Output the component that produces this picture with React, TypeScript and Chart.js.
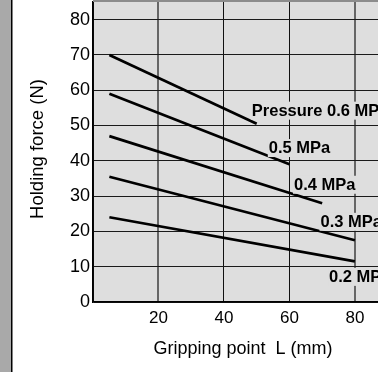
import React, { useEffect, useRef } from 'react';
import { Chart, registerables } from 'chart.js';

Chart.register(...registerables);

// Holding force vs gripping point, one straight line per supply pressure
const pressureLabels = ['Pressure 0.6 MPa', '0.5 MPa', '0.4 MPa', '0.3 MPa', '0.2 MPa'];
const startPoint = [5, 5, 5, 5, 5];
const endPoint = [50, 60, 70, 80, 80];
const startForce = [70, 59, 47, 35.5, 24];
const endForce = [50.5, 39, 28, 17.5, 11.5];

const xTicks = [0, 20, 40, 60, 80];
const yTicks = [0, 10, 20, 30, 40, 50, 60, 70, 80];

// label anchors (data units: gripping point, force at text baseline)
const labelAtL = [48.5, 53.7, 61.4, 69.5, 72.1];
const labelAtF = [52.8, 42.2, 31.8, 21.3, 5.7];

const xTitle = 'Gripping point  L (mm)';
const yTitle = 'Holding force (N)';

const FONT = '"Liberation Sans", Arial, Helvetica, sans-serif';
const PLOT_BG = '#dedede';

const framePlugin = {
  id: 'frame',
  beforeDraw(chart: any) {
    const { ctx, chartArea: a } = chart;
    ctx.save();
    ctx.fillStyle = '#ffffff';
    ctx.fillRect(0, 0, chart.width, chart.height);
    ctx.fillStyle = '#a9a9a9';
    ctx.fillRect(0, 0, 11, chart.height);
    ctx.fillStyle = '#000000';
    ctx.fillRect(11, 0, 1.5, chart.height);
    ctx.fillStyle = PLOT_BG;
    ctx.fillRect(a.left, a.top, a.right - a.left, a.bottom - a.top);
    ctx.restore();
  },
  afterDraw(chart: any) {
    const { ctx, chartArea: a, scales } = chart;
    const xs = scales.x;
    const ys = scales.y;
    ctx.save();
    // top gray edge
    ctx.fillStyle = '#8c8c8c';
    ctx.fillRect(a.left, 0, chart.width - a.left, 2);

    // line labels
    ctx.font = `bold 16.5px ${FONT}`;
    ctx.textAlign = 'left';
    ctx.textBaseline = 'alphabetic';
    pressureLabels.forEach((t, i) => {
      const px = xs.getPixelForValue(labelAtL[i]);
      const py = ys.getPixelForValue(labelAtF[i]);
      const w = ctx.measureText(t).width;
      ctx.fillStyle = PLOT_BG;
      ctx.fillRect(px - 1, py - 14, w + 2, 18);
      ctx.fillStyle = '#000';
      ctx.fillText(t, px, py);
    });

    // axis titles
    ctx.fillStyle = '#000';
    ctx.font = `18px ${FONT}`;
    ctx.textAlign = 'center';
    ctx.textBaseline = 'alphabetic';
    ctx.fillText(xTitle, a.left + 150, a.bottom + 52);

    ctx.save();
    ctx.translate(43, (a.top + a.bottom) / 2 - 3);
    ctx.rotate(-Math.PI / 2);
    ctx.font = `18.5px ${FONT}`;
    ctx.fillText(yTitle, 0, 0);
    ctx.restore();

    ctx.restore();
  },
};

export default function App() {
  const ref = useRef<HTMLCanvasElement | null>(null);

  useEffect(() => {
    if (!ref.current) return;
    const datasets = pressureLabels.map((p, i) => ({
      label: p,
      data: [
        { x: startPoint[i], y: startForce[i] },
        { x: endPoint[i], y: endForce[i] },
      ],
      borderColor: '#000',
      borderWidth: 2.7,
      pointRadius: 0,
      fill: false,
      tension: 0,
      borderCapStyle: 'butt' as const,
    }));

    const chart = new Chart(ref.current, {
      type: 'line',
      data: { datasets },
      plugins: [framePlugin],
      options: {
        animation: false,
        responsive: false,
        events: [],
        layout: { padding: { top: 2, left: 0, right: 0, bottom: 0 } },
        plugins: { legend: { display: false }, tooltip: { enabled: false } },
        scales: {
          x: {
            type: 'linear',
            min: 0,
            max: 95,
            afterBuildTicks: (s: any) => {
              s.ticks = xTicks.map((v) => ({ value: v }));
            },
            afterFit: (s: any) => {
              s.height = 70;
              s.paddingLeft = 0;
              s.paddingRight = 0;
              s.paddingTop = 0;
              s.paddingBottom = 0;
            },
            grid: {
              drawTicks: false,
              color: (c: any) => (c.tick && (c.tick.value === 20 || c.tick.value === 80) ? '#666' : '#111'),
              lineWidth: (c: any) => (c.tick && (c.tick.value === 20 || c.tick.value === 80) ? 2 : 1),
            },
            border: { color: '#000', width: 1.5 },
            ticks: {
              color: '#000',
              padding: 6,
              maxRotation: 0,
              font: { family: FONT, size: 17 },
              callback: (v: any) => (v === 0 ? '' : String(v)),
            },
          },
          y: {
            type: 'linear',
            min: 0,
            max: 85,
            afterBuildTicks: (s: any) => {
              s.ticks = yTicks.map((v) => ({ value: v }));
            },
            afterFit: (s: any) => {
              s.width = 93;
              s.paddingTop = 0;
              s.paddingBottom = 0;
              s.paddingLeft = 0;
              s.paddingRight = 0;
            },
            grid: { drawTicks: false, color: '#1a1a1a', lineWidth: 1 },
            border: { color: '#000', width: 1.5 },
            ticks: {
              color: '#000',
              padding: 3,
              font: { family: FONT, size: 18 },
              callback: (v: any) => String(v),
            },
          },
        },
      },
    });
    return () => chart.destroy();
  }, []);

  return (
    <div
      style={{
        position: 'fixed',
        left: 0,
        top: 0,
        width: 378,
        height: 372,
        overflow: 'hidden',
        background: '#fff',
      }}
    >
      <canvas ref={ref} width={404} height={372} style={{ display: 'block' }} />
    </div>
  );
}
